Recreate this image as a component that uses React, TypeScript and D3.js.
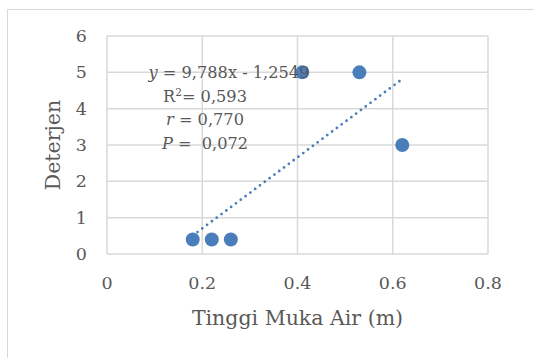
import * as d3 from "d3";
import React from "react";

// scatter points: water level (m) vs detergent
const xValues = [0.18, 0.22, 0.26, 0.41, 0.53, 0.62];
const yValues = [0.4, 0.4, 0.4, 5, 5, 3];
const xTicks = [0, 0.2, 0.4, 0.6, 0.8];
const yTicks = [0, 1, 2, 3, 4, 5, 6];
const slope = 9.788;
const intercept = -1.2549;
const trendRange = [0.19, 0.62];

export default function App() {
  const width = 534;
  const height = 358;
  const marginLeft = 107;
  const marginRight = 46;
  const marginTop = 36;
  const marginBottom = 104;

  const xScale = d3.scaleLinear([0, 0.8], [marginLeft, width - marginRight]);
  const yScale = d3.scaleLinear([0, 6], [height - marginBottom, marginTop]);

  const trend = d3
    .line<number>()
    .x((x) => xScale(x))
    .y((x) => yScale(slope * x + intercept));

  const textColor = "#595959";
  const gridColor = "#d9d9d9";
  const font = "'DejaVu Serif', serif";

  return (
    <svg
      width={width}
      height={height}
      style={{ position: "absolute", left: 0, top: 0 }}
    >
      <rect width={width} height={height} fill="#fff" />
      {/* chart border */}
      <rect
        x={7.5}
        y={9.5}
        width={width}
        height={height}
        fill="none"
        stroke={gridColor}
      />
      {/* grid */}
      <g stroke={gridColor} strokeWidth={1.5}>
        {yTicks.map((t) => (
          <line
            key={`y${t}`}
            x1={xScale(0)}
            x2={xScale(0.8)}
            y1={yScale(t)}
            y2={yScale(t)}
          />
        ))}
        {xTicks.map((t) => (
          <line
            key={`x${t}`}
            x1={xScale(t)}
            x2={xScale(t)}
            y1={yScale(0)}
            y2={yScale(6)}
          />
        ))}
      </g>
      {/* y ticks */}
      <g fontFamily={font} fontSize={17.5} fill={textColor} textAnchor="end">
        {yTicks.map((t) => (
          <text key={t} x={87} y={yScale(t)} dy="0.35em">
            {t}
          </text>
        ))}
      </g>
      {/* x ticks */}
      <g fontFamily={font} fontSize={17.5} fill={textColor} textAnchor="middle">
        {xTicks.map((t) => (
          <text key={t} x={xScale(t)} y={283} dy="0.35em">
            {String(t)}
          </text>
        ))}
      </g>
      {/* axis titles */}
      <text
        x={xScale(0.4)}
        y={318}
        dy="0.35em"
        textAnchor="middle"
        fontFamily={font}
        fontSize={20.5}
        fill={textColor}
      >
        Tinggi Muka Air (m)
      </text>
      <text
        transform={`translate(53,145) rotate(-90)`}
        dy="0.35em"
        textAnchor="middle"
        fontFamily={font}
        fontSize={20.5}
        fill={textColor}
      >
        Deterjen
      </text>
      {/* trendline */}
      <path
        d={trend(trendRange) ?? ""}
        fill="none"
        stroke="#4a7ebb"
        strokeWidth={2.8}
        strokeLinecap="round"
        strokeDasharray="0 6"
      />
      {/* points */}
      <g fill="#4a7ebb">
        {xValues.map((x, i) => (
          <circle key={i} cx={xScale(x)} cy={yScale(yValues[i])} r={7} />
        ))}
      </g>
      {/* regression annotation */}
      <g fontFamily={font} fontSize={16.2} fill={textColor} textAnchor="middle">
        <text x={229} y={72} dy="0.35em">
          <tspan fontStyle="italic">y</tspan> = 9,788x - 1,2549
        </text>
        <text x={205} y={96} dy="0.35em">
          R<tspan dy="-6" fontSize={10.5}>2</tspan>
          <tspan dy="6">= 0,593</tspan>
        </text>
        <text x={205} y={119} dy="0.35em">
          <tspan fontStyle="italic">r</tspan> = 0,770
        </text>
        <text x={205} y={143} dy="0.35em">
          <tspan fontStyle="italic">P</tspan>{" = \u00a00,072"}
        </text>
      </g>
    </svg>
  );
}
